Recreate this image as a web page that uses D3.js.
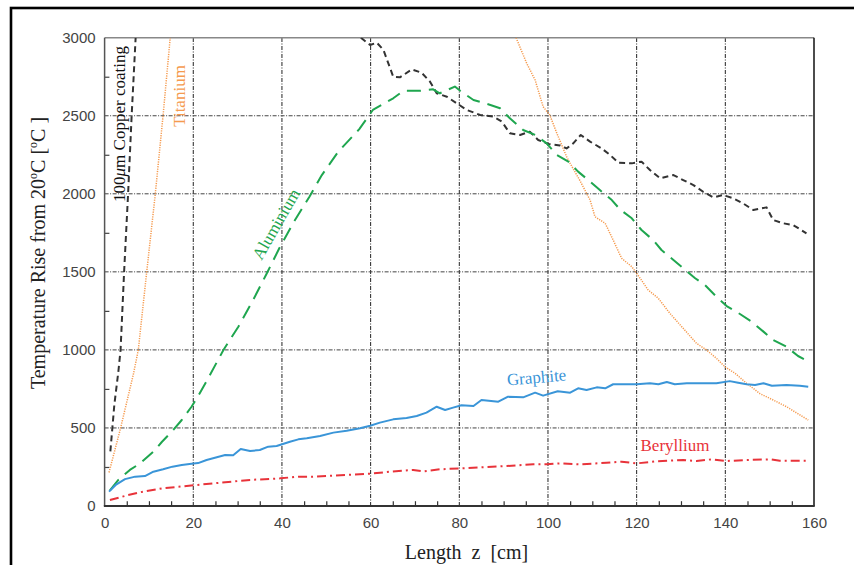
<!DOCTYPE html>
<html>
<head>
<meta charset="utf-8">
<script src="https://cdn.jsdelivr.net/npm/d3@7"></script>
<style>
  body { margin: 0; background: #fff; }
  svg { display: block; }
  .tick-label { font-family: "Liberation Sans", Arial, sans-serif; font-size: 15px; fill: #444; }
  .serif { font-family: "Liberation Serif", "Times New Roman", serif; }
</style>
</head>
<body>
<svg id="chart" width="854" height="565"></svg>
<script>
// Axis ticks
const xTicks = [0, 20, 40, 60, 80, 100, 120, 140, 160];
const yTicks = [0, 500, 1000, 1500, 2000, 2500, 3000];

// Temperature rise [°C] versus length z [cm] for each absorber material
const graphite = [[1,92],[2.5,135],[4.6,172],[6.9,188],[9.1,192],[11,220],[13.2,235],[15.3,252],[17.4,262],[19.6,270],[21.1,275],[23,295],[25.3,312],[27.2,327],[29,325],[30.7,365],[32.8,352],[35,359],[36.9,380],[38.8,384],[41.8,412],[43.7,427],[45.6,434],[48.6,448],[51.6,470],[54.6,482],[57.6,498],[59.9,514],[62.1,534],[65.1,555],[68.1,564],[70.4,577],[72.6,598],[74.9,636],[76.8,615],[78.6,630],[80.5,645],[83.2,641],[85,679],[88.8,668],[91,700],[94.4,696],[97.1,726],[98.9,707],[102.2,735],[105,726],[106.8,754],[108.7,743],[111,760],[112.9,754],[114.7,780],[117.7,780],[120,780],[123,786],[124.9,780],[126.8,794],[128.6,780],[131.3,786],[134.3,786],[138,786],[141,800],[142.9,790],[144.8,780],[146.7,775],[148.6,786],[150.5,770],[153.8,775],[156.8,770],[158.7,764]];

const beryllium = [[1.2,38],[5.3,70],[8,88],[12.9,113],[18.5,128],[24.5,145],[32.8,167],[39.6,177],[43.7,188],[47,188],[54.6,199],[60,207],[64.4,220],[69.6,231],[71.9,222],[75.6,235],[80.2,241],[84.7,248],[90.7,256],[96.7,267],[99.7,267],[102.7,273],[107.2,267],[113.2,277],[116.6,284],[120,273],[124.5,286],[130.5,295],[133.5,288],[136.9,299],[140.3,288],[144.8,295],[150.1,299],[152.3,290],[158.7,290]];

const titaniumRise = [[1,215],[3.5,487],[6.5,845],[7.6,1000],[9.5,1500],[11.4,1990],[13.2,2505],[14.8,3000]];
const titaniumFall = [[92.8,3000],[95.2,2836],[97.1,2729],[98.9,2558],[100.4,2505],[102,2388],[104.2,2238],[105,2195],[107.2,2085],[109.5,1960],[110.6,1853],[112.9,1811],[114.7,1704],[116.6,1587],[118.9,1533],[120,1491],[122.6,1384],[124.9,1330],[127.5,1234],[130.5,1138],[133.5,1042],[135.8,999],[138,946],[139.9,892],[142.2,850],[144.8,786],[147.8,720],[150.8,679],[153.8,636],[158.7,551]];

const aluminium = [[1.2,100],[3.1,167],[5.7,231],[8,273],[11,348],[12.9,410],[15.5,487],[17.4,551],[19.6,636],[20.8,690],[23,800],[26.8,999],[30.2,1150],[33.5,1320],[36.6,1491],[39.4,1651],[42.7,1821],[46.2,1981],[49,2120],[52.7,2270],[57.4,2413],[60.5,2537],[65.1,2612],[67.4,2660],[71.1,2660],[74.1,2669],[75.6,2644],[79,2687],[80.2,2660],[83.2,2601],[85.8,2580],[89.2,2548],[91.4,2484],[94.4,2409],[97.1,2377],[99.7,2323],[102,2249],[104.6,2206],[106.8,2142],[109.5,2078],[111.7,2024],[114.4,1960],[116.2,1901],[118.9,1843],[121.1,1768],[123.7,1704],[125.6,1640],[128.3,1576],[130.5,1523],[133.2,1459],[135.4,1416],[138,1341],[140.3,1281],[143.3,1230],[145.9,1181],[148.6,1117],[150.8,1063],[153.8,1020],[156.4,961],[158.5,930]];

const copperRise = [[1.3,350],[2.2,650],[3.1,860],[3.6,1000],[4.4,1500],[5.3,2000],[6.1,2500],[7,3000]];
const copperFall = [[57.8,3000],[59.9,2953],[61.4,2968],[62.9,2921],[65.1,2750],[66.6,2746],[69.3,2797],[71.5,2776],[73.4,2718],[74.9,2644],[77.2,2622],[79.4,2580],[81.7,2537],[84.7,2505],[87.7,2494],[89.6,2462],[91.4,2388],[93.7,2377],[95.9,2398],[97.8,2345],[100.1,2319],[102.7,2310],[104.2,2291],[105.7,2323],[107.4,2377],[109.5,2334],[112.1,2291],[114,2249],[115.9,2199],[118.9,2195],[121.1,2206],[123,2152],[125.3,2099],[128.3,2120],[130.5,2088],[132.8,2056],[135,2013],[137.3,1977],[139.5,1992],[141.8,1971],[144,1939],[146.3,1896],[149.3,1913],[150.8,1832],[153.1,1811],[155.3,1800],[158.3,1747]];

const svg = d3.select("#chart");

const x = d3.scaleLinear().domain([0, 160]).range([104.6, 814]);
const y = d3.scaleLinear().domain([0, 3000]).range([506, 37.7]);

// Outer page frame (runs past the right and bottom edges)
svg.append("rect")
  .attr("x", 11).attr("y", 8).attr("width", 900).attr("height", 620)
  .attr("fill", "none").attr("stroke", "#000").attr("stroke-width", 2.6);

// Grid
const grid = svg.append("g").attr("stroke", "#222").attr("stroke-width", 1)
  .attr("stroke-dasharray", "4,1.5,1,1.5").attr("fill", "none");
grid.selectAll("line.v").data(xTicks.slice(1, -1)).join("line")
  .attr("x1", d => x(d)).attr("x2", d => x(d))
  .attr("y1", y(0)).attr("y2", y(3000));
grid.selectAll("line.h").data(yTicks.slice(1, -1)).join("line")
  .attr("stroke", "#444")
  .attr("x1", x(0)).attr("x2", x(160))
  .attr("y1", d => y(d)).attr("y2", d => y(d));

// Minor ticks pointing into the plot
const minorX = d3.range(5, 160, 5).filter(v => v % 20 !== 0);
const minorY = d3.range(250, 3000, 250).filter(v => v % 500 !== 0);
svg.append("g").attr("transform", `translate(0,${y(0)})`)
  .call(d3.axisBottom(x).tickValues(minorX).tickSize(-4.8).tickFormat(""))
  .call(g => g.select(".domain").remove())
  .call(g => g.selectAll("line").attr("stroke", "#333").attr("stroke-width", 1.2));
svg.append("g").attr("transform", `translate(${x(0)},0)`)
  .call(d3.axisLeft(y).tickValues(minorY).tickSize(-4.8).tickFormat(""))
  .call(g => g.select(".domain").remove())
  .call(g => g.selectAll("line").attr("stroke", "#444").attr("stroke-width", 1.2));

// Tick labels
svg.append("g").attr("transform", `translate(0,${y(0)})`)
  .call(d3.axisBottom(x).tickValues(xTicks).tickSize(0).tickPadding(11).tickFormat(d3.format("d")))
  .call(g => g.select(".domain").remove())
  .call(g => g.selectAll("text").attr("class", "tick-label").attr("fill", null));
svg.append("g").attr("transform", `translate(${x(0)},0)`)
  .call(d3.axisLeft(y).tickValues(yTicks).tickSize(0).tickPadding(9).tickFormat(d3.format("d")))
  .call(g => g.select(".domain").remove())
  .call(g => g.selectAll("text").attr("class", "tick-label").attr("fill", null));

// Plot frame
const fr = svg.append("g").attr("fill", "none");
fr.append("line").attr("x1", x(0)).attr("x2", x(160)).attr("y1", y(3000)).attr("y2", y(3000))
  .attr("stroke", "#888").attr("stroke-width", 1.5);
fr.append("line").attr("x1", x(0)).attr("x2", x(0)).attr("y1", y(3000)).attr("y2", y(0))
  .attr("stroke", "#555").attr("stroke-width", 1.5);
fr.append("line").attr("x1", x(160)).attr("x2", x(160)).attr("y1", y(3000)).attr("y2", y(0))
  .attr("stroke", "#111").attr("stroke-width", 1.5);
fr.append("line").attr("x1", x(0) - 0.75).attr("x2", x(160) + 0.75).attr("y1", y(0)).attr("y2", y(0))
  .attr("stroke", "#333").attr("stroke-width", 2);

// Data curves, clipped to the plot area
svg.append("clipPath").attr("id", "plot-clip").append("rect")
  .attr("x", x(0)).attr("y", y(3000)).attr("width", x(160) - x(0)).attr("height", y(0) - y(3000));
const curves = svg.append("g").attr("clip-path", "url(#plot-clip)").attr("fill", "none")
  .attr("stroke-linejoin", "round");
const line = d3.line().x(d => x(d[0])).y(d => y(d[1]));

const series = [
  { data: titaniumRise, color: "#f59a4e", width: 1.5, dash: "1.2,1.2" },
  { data: titaniumFall, color: "#f59a4e", width: 1.5, dash: "1.2,1.2" },
  { data: copperRise, color: "#333", width: 2, dash: "6,4" },
  { data: copperFall, color: "#333", width: 2, dash: "6,4" },
  { data: aluminium, color: "#1fa64f", width: 2, dash: "14,8" },
  { data: beryllium, color: "#e8333a", width: 2, dash: "9,4,2,4" },
  { data: graphite, color: "#3a95d8", width: 2, dash: null }
];
curves.selectAll("path").data(series).join("path")
  .attr("d", d => line(d.data))
  .attr("stroke", d => d.color)
  .attr("stroke-width", d => d.width)
  .attr("stroke-dasharray", d => d.dash);

// Curve labels
const lab = svg.append("g").attr("class", "serif").attr("font-size", 17);
const cu = lab.append("text").attr("transform", "translate(124.5,124) rotate(-90)")
  .attr("text-anchor", "middle").attr("fill", "#111");
cu.append("tspan").text("100");
cu.append("tspan").attr("font-style", "italic").text("μ");
cu.append("tspan").text("m Copper coating");
lab.append("text").attr("transform", "translate(184.5,96) rotate(-90)")
  .attr("text-anchor", "middle").attr("fill", "#f59a4e").text("Titanium");
lab.append("text").attr("transform", "translate(281,227) rotate(-60)")
  .attr("text-anchor", "middle").attr("fill", "#1fa64f").text("Aluminium");
lab.append("text").attr("transform", "translate(537,383) rotate(-5)")
  .attr("text-anchor", "middle").attr("fill", "#3a95d8").text("Graphite");
lab.append("text").attr("x", 675).attr("y", 451)
  .attr("text-anchor", "middle").attr("fill", "#e8333a").text("Beryllium");

// Axis titles
svg.append("text").attr("class", "serif").attr("font-size", 20).attr("fill", "#222")
  .attr("x", 466.5).attr("y", 559).attr("text-anchor", "middle")
  .style("white-space", "pre").text("Length  z  [cm]");

const yt = svg.append("text").attr("class", "serif").attr("font-size", 20).attr("fill", "#222")
  .attr("transform", "translate(45,253) rotate(-90)").attr("text-anchor", "middle");
yt.append("tspan").text("Temperature Rise from 20");
yt.append("tspan").attr("font-size", 12).attr("dy", -8).text("o");
yt.append("tspan").attr("dy", 8).text("C [");
yt.append("tspan").attr("font-size", 12).attr("dy", -8).text("o");
yt.append("tspan").attr("dy", 8).text("C ]");
</script>
</body>
</html>
